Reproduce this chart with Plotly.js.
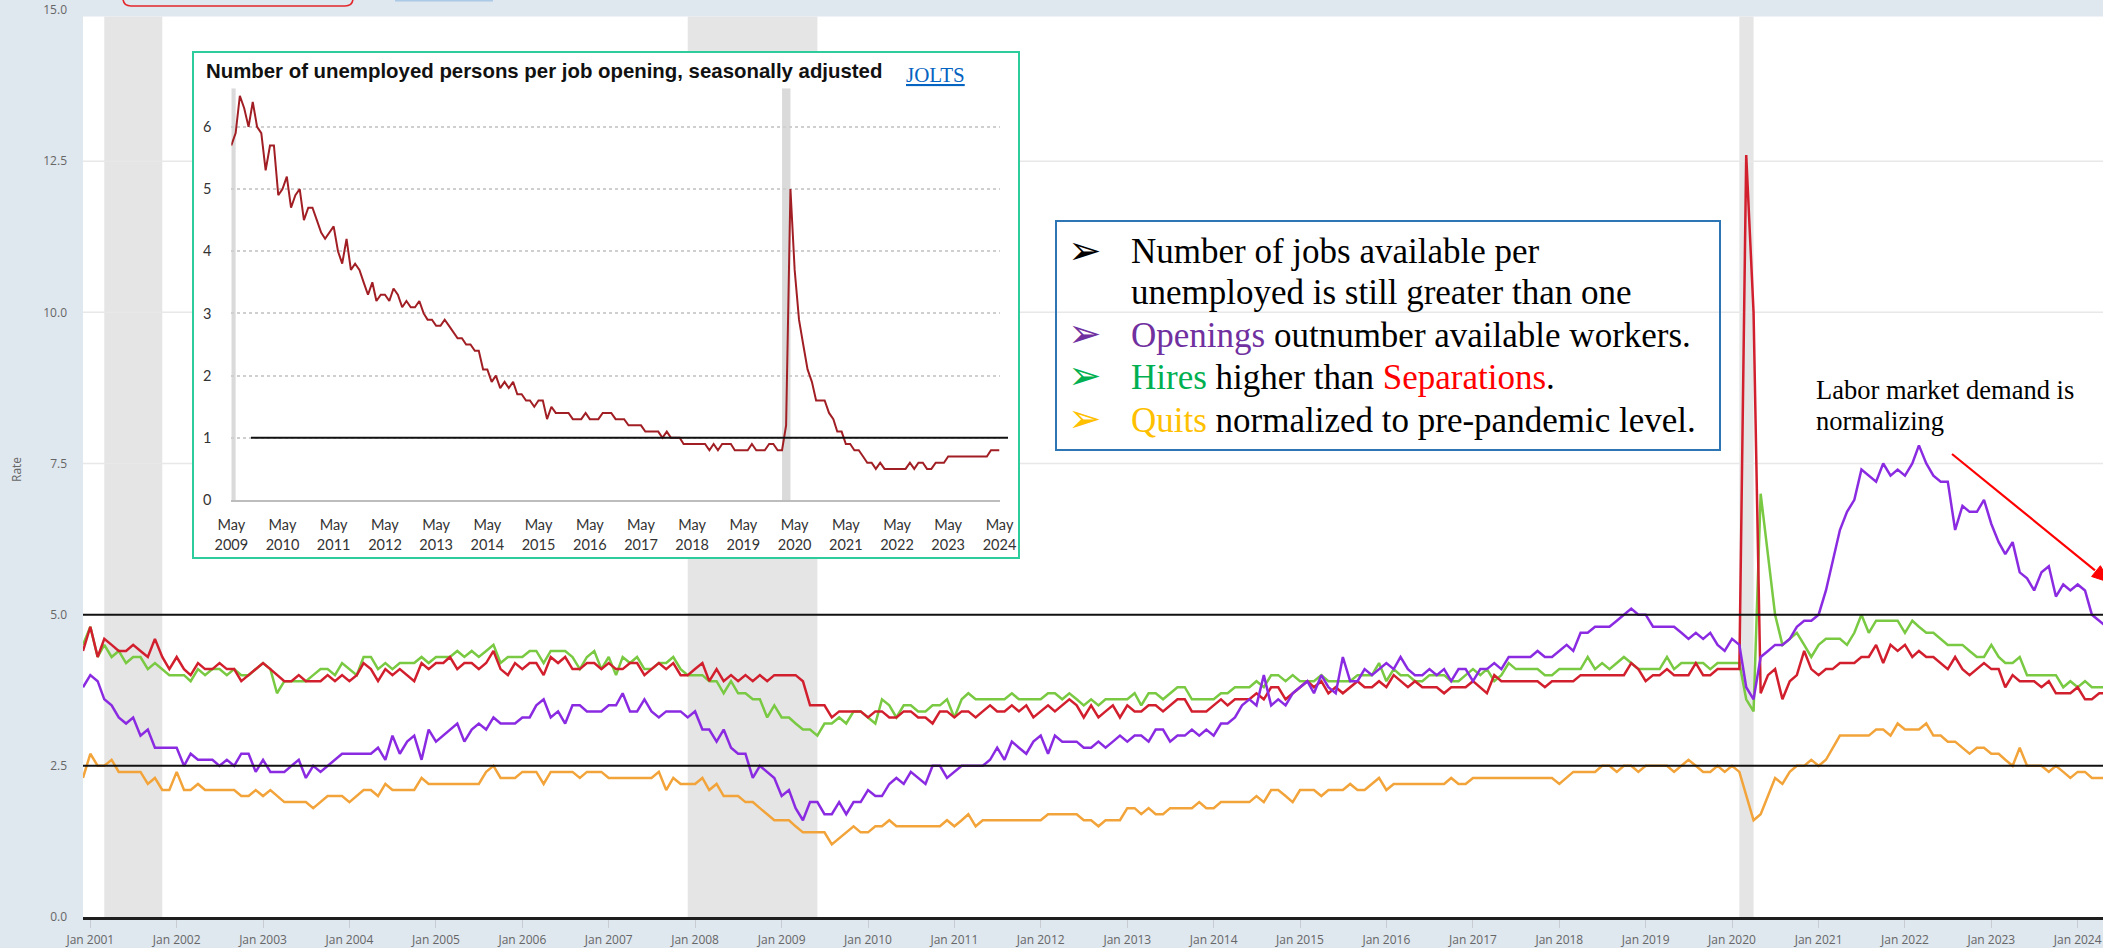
<!DOCTYPE html>
<html>
<head>
<meta charset="utf-8">
<script src="https://cdn.plot.ly/plotly-3.0.1.min.js"></script>
<style>
html,body{margin:0;padding:0;background:#dfe7ef;}
#chart{width:2103px;height:948px;}
</style>
</head>
<body>
<div id="chart"></div>
<script>
// ---------------- DATA ----------------
// JOLTS rates, monthly, starting Dec 2000
const startMonth = '2000-12';
const openings = [
3.8,4.0,3.9,3.6,3.5,3.3,3.2,3.3,3.0,3.1, 2.8,2.8,2.8,2.8,2.5,2.7,2.6,2.6,2.6,2.5,
2.6,2.5,2.7,2.7,2.4,2.6,2.4,2.4,2.4,2.5, 2.6,2.3,2.5,2.4,2.5,2.6,2.7,2.7,2.7,2.7,
2.7,2.8,2.6,3.0,2.7,2.9,3.0,2.6,3.1,2.9, 3.0,3.1,3.2,2.9,3.1,3.2,3.1,3.3,3.2,3.2,
3.2,3.3,
3.3,3.5,3.6,3.3,3.4,3.2,3.5,3.5,3.4,3.4, 3.4,3.5,3.5,3.7,3.4,3.4,3.6,3.4,3.3,3.4,
3.4,3.4,3.3,3.4,3.1,3.1,2.9,3.1,2.8,2.7, 2.7,2.3,2.5,2.4,2.3,2.0,2.1,1.8,1.6,1.9,
1.9,1.7,1.7,1.9,1.7,1.9,1.9,2.1,2.0,2.0, 2.2,2.3,2.2,2.4,2.3,2.2,2.5,2.5,2.3,2.4,
2.5,2.5,2.5,2.5,2.6,2.8,
2.6,2.9,2.8,2.7,2.9,3.0,2.7,3.0,2.9,2.9, 2.9,2.8,2.8,2.9,2.8,2.9,3.0,2.9,3.0,3.0,
2.9,3.1,3.1,2.9,3.0,3.0,3.1,3.0,3.1,3.0, 3.2,3.2,3.3,3.5,3.6,3.5,4.0,3.5,3.6,3.5,
3.7,3.8,3.9,3.7,4.0,3.8,3.7,4.3,3.9,3.9, 4.1,4.0,4.1,4.2,4.1,4.3,4.1,4.0,4.0,4.1,
4.0,4.1,3.9,4.1,4.1,3.9,4.1,
4.1,4.2,4.1,4.3,4.3,4.3,4.3,4.4,4.3,4.3, 4.4,4.5,4.4,4.7,4.7,4.8,4.8,4.8,4.9,5.0,
5.1,5.0,5.0,4.8,4.8,4.8,4.8,4.7,4.6,4.7, 4.6,4.7,4.5,4.4,4.6,4.5,3.8,3.6,4.3,4.4,
4.5,4.5,4.6,4.8,4.9,4.9,5.0,5.4,5.9,6.4, 6.7,6.9,7.4,7.3,7.2,7.5,7.3,7.4,7.3,7.5,
7.8,7.5,7.3,7.2,7.2,6.4,6.8,6.7,6.7,6.9, 6.5,6.2,6.0,6.2,5.7,5.6,5.4,5.7,5.8,5.3,
5.5,5.4,5.5,5.4,5.0,4.9,4.8
];
const hires = [
4.5,4.8,4.3,4.5,4.3,4.4,4.2,4.3,4.3,4.1, 4.2,4.1,4.0,4.0,4.0,3.9,4.1,4.0,4.1,4.1,
4.0,4.1,4.0,4.0,4.1,4.2,4.1,3.7,3.9,3.9, 3.9,3.9,4.0,4.1,4.1,4.0,4.2,4.1,4.0,4.3,
4.3,4.1,4.2,4.1,4.2,4.2,4.2,4.3,4.2,4.3, 4.3,4.3,4.4,4.3,4.4,4.3,4.4,4.5,4.2,4.3,
4.3,4.3,
4.4,4.4,4.2,4.4,4.4,4.4,4.3,4.1,4.3,4.4, 4.1,4.3,4.0,4.3,4.2,4.3,4.1,4.1,4.2,4.2,
4.3,4.1,4.0,4.0,4.0,3.9,3.9,3.7,3.9,3.7, 3.7,3.6,3.6,3.3,3.5,3.3,3.3,3.2,3.1,3.1,
3.0,3.2,3.2,3.3,3.2,3.4,3.4,3.3,3.2,3.6, 3.5,3.3,3.5,3.5,3.4,3.4,3.5,3.5,3.6,3.3,
3.6,3.7,3.6,3.6,3.6,3.6,
3.6,3.7,3.6,3.6,3.6,3.6,3.7,3.7,3.6,3.7, 3.6,3.5,3.6,3.5,3.6,3.6,3.6,3.6,3.7,3.5,
3.7,3.7,3.6,3.7,3.8,3.8,3.6,3.6,3.6,3.6, 3.7,3.7,3.8,3.8,3.8,3.9,3.8,4.0,4.0,3.9,
4.0,3.9,3.9,3.9,4.0,3.9,3.9,3.9,3.9,4.0, 4.0,4.0,4.2,3.9,4.1,4.0,4.0,3.9,3.9,4.0,
4.0,4.0,3.9,3.9,4.0,4.1,4.0,
4.1,3.9,4.0,4.2,4.1,4.1,4.1,4.1,4.0,4.0, 4.1,4.1,4.1,4.1,4.3,4.1,4.2,4.1,4.2,4.3,
4.2,4.1,4.1,4.1,4.1,4.3,4.1,4.2,4.2,4.2, 4.2,4.1,4.2,4.2,4.2,4.2,3.6,3.4,7.0,6.0,
5.0,4.5,4.6,4.7,4.5,4.3,4.5,4.6,4.6,4.6, 4.5,4.7,5.0,4.7,4.9,4.9,4.9,4.9,4.7,4.9,
4.8,4.7,4.7,4.6,4.5,4.5,4.5,4.4,4.3,4.3, 4.5,4.3,4.2,4.2,4.3,4.0,4.0,4.0,4.0,4.0,
3.8,3.9,3.8,3.9,3.8,3.8,3.8
];
const separations = [
4.4,4.8,4.3,4.6,4.5,4.4,4.4,4.5,4.4,4.3, 4.6,4.3,4.1,4.3,4.1,4.0,4.2,4.1,4.1,4.2,
4.1,4.1,3.9,4.0,4.1,4.2,4.1,4.0,3.9,3.9, 4.0,3.9,3.9,3.9,4.0,3.9,4.0,3.9,4.0,4.2,
4.1,3.9,4.1,4.0,4.1,4.0,3.9,4.2,4.1,4.2, 4.2,4.3,4.1,4.2,4.2,4.1,4.2,4.4,4.1,4.0,
4.2,4.1,
4.2,4.2,4.0,4.3,4.2,4.3,4.1,4.1,4.2,4.2, 4.1,4.2,4.1,4.1,4.2,4.2,4.0,4.1,4.2,4.1,
4.2,4.0,4.0,4.1,4.2,3.9,4.1,3.9,4.0,3.9, 4.0,3.9,4.0,3.9,4.0,4.0,4.0,4.0,3.9,3.5,
3.5,3.5,3.3,3.4,3.4,3.4,3.4,3.3,3.4,3.4, 3.3,3.3,3.4,3.4,3.3,3.3,3.2,3.4,3.4,3.3,
3.4,3.4,3.3,3.4,3.5,3.4,
3.4,3.5,3.4,3.5,3.3,3.4,3.5,3.4,3.5,3.6, 3.5,3.3,3.5,3.3,3.4,3.5,3.3,3.5,3.4,3.4,
3.5,3.5,3.4,3.5,3.6,3.6,3.4,3.4,3.4,3.5, 3.6,3.5,3.6,3.6,3.6,3.7,3.6,3.8,3.8,3.6,
3.7,3.8,3.9,3.8,3.9,3.7,3.8,3.7,3.8,3.9, 3.8,3.8,3.9,3.8,4.0,3.9,3.8,3.9,3.8,3.8,
3.8,3.7,3.8,3.8,3.8,3.9,3.8,
3.7,4.0,3.9,3.9,3.9,3.9,3.9,3.9,3.8,3.9, 3.9,3.9,3.9,4.0,4.0,4.0,4.0,4.0,4.0,4.0,
4.2,4.1,3.9,4.0,4.0,4.1,4.0,4.0,4.0,4.2, 4.0,4.0,4.1,4.1,4.1,4.1,12.6,10.0,3.7,4.0,
4.1,3.6,3.9,4.0,4.4,4.1,4.0,4.1,4.1,4.2, 4.2,4.2,4.3,4.3,4.5,4.2,4.5,4.4,4.5,4.3,
4.4,4.3,4.3,4.2,4.1,4.3,4.1,4.0,4.1,4.2, 4.1,4.1,3.8,4.0,3.9,3.9,3.9,3.8,3.9,3.7,
3.7,3.7,3.8,3.6,3.6,3.7,3.7
];
const quits = [
2.3,2.7,2.5,2.5,2.6,2.4,2.4,2.4,2.4,2.2, 2.3,2.1,2.1,2.4,2.1,2.1,2.2,2.1,2.1,2.1,
2.1,2.1,2.0,2.0,2.1,2.0,2.1,2.0,1.9,1.9, 1.9,1.9,1.8,1.9,2.0,2.0,2.0,1.9,2.0,2.1,
2.1,2.0,2.2,2.1,2.1,2.1,2.1,2.3,2.2,2.2, 2.2,2.2,2.2,2.2,2.2,2.2,2.4,2.5,2.3,2.3,
2.3,2.4,
2.4,2.4,2.2,2.4,2.4,2.4,2.4,2.3,2.4,2.4, 2.4,2.3,2.3,2.3,2.3,2.3,2.3,2.3,2.4,2.1,
2.3,2.2,2.2,2.2,2.3,2.1,2.2,2.0,2.0,2.0, 1.9,1.9,1.8,1.7,1.6,1.6,1.6,1.5,1.4,1.4,
1.4,1.4,1.2,1.3,1.4,1.5,1.4,1.4,1.5,1.5, 1.6,1.5,1.5,1.5,1.5,1.5,1.5,1.5,1.6,1.5,
1.6,1.7,1.5,1.6,1.6,1.6,
1.6,1.6,1.6,1.6,1.6,1.6,1.7,1.7,1.7,1.7, 1.7,1.6,1.6,1.5,1.6,1.6,1.6,1.8,1.8,1.7,
1.8,1.7,1.7,1.8,1.8,1.8,1.8,1.9,1.8,1.8, 1.9,1.9,1.9,1.9,1.9,2.0,1.9,2.1,2.1,2.0,
1.9,2.1,2.1,2.1,2.0,2.1,2.1,2.1,2.2,2.1, 2.1,2.2,2.3,2.1,2.2,2.2,2.2,2.2,2.2,2.2,
2.2,2.2,2.3,2.2,2.2,2.3,2.3,
2.3,2.3,2.3,2.3,2.3,2.3,2.3,2.3,2.3,2.3, 2.2,2.3,2.4,2.4,2.4,2.4,2.5,2.5,2.4,2.5,
2.5,2.4,2.5,2.5,2.5,2.5,2.4,2.5,2.6,2.5, 2.4,2.4,2.5,2.4,2.5,2.4,2.0,1.6,1.7,2.0,
2.3,2.2,2.4,2.5,2.5,2.6,2.5,2.6,2.8,3.0, 3.0,3.0,3.0,3.0,3.1,3.1,3.0,3.2,3.1,3.1,
3.1,3.2,3.0,3.0,2.9,2.9,2.8,2.7,2.8,2.8, 2.7,2.7,2.6,2.5,2.8,2.5,2.5,2.5,2.4,2.5,
2.4,2.3,2.4,2.4,2.3,2.3,2.3
];
// Inset: number of unemployed persons per job opening, monthly from May 2009
const ratioStart = '2009-05';
const unemployedPerOpening = [
5.7,5.9,6.5,6.3,6.0,6.4,6.0,5.9,5.3,5.7, 5.7,4.9,5.0,5.2,4.7,4.9,5.0,4.5,4.7,4.7,
4.5,4.3,4.2,4.3,4.4,4.0,3.8,4.2,3.7,3.8, 3.7,3.5,3.3,3.5,3.2,3.3,3.3,3.2,3.4,3.3,
3.1,3.2,3.1,3.1,3.2,3.0,2.9,2.9,2.8,2.8, 2.9,2.8,2.7,2.6,2.6,2.5,2.5,2.4,2.4,2.1,
2.1,1.9,2.0,1.8,1.9,1.8,1.9,1.7,1.7,1.6, 1.6,1.5,1.6,1.6,1.3,1.5,1.4,1.4,1.4,1.4,
1.3,1.3,1.3,1.4,1.3,1.3,1.3,1.4,1.4,1.4, 1.3,1.3,1.3,1.2,1.2,1.2,1.2,1.1,1.1,1.1,
1.1,1.0,1.1,1.0,1.0,1.0,0.9,0.9,0.9,0.9, 0.9,0.9,0.8,0.9,0.8,0.9,0.9,0.9,0.8,0.8,
0.8,0.8,0.9,0.8,0.8,0.8,0.9,0.9,0.8,0.8, 1.2,5.0,3.7,2.9,2.5,2.1,1.9,1.6,1.6,1.6,
1.4,1.3,1.1,1.1,0.9,0.9,0.8,0.8,0.7,0.6, 0.6,0.5,0.6,0.5,0.5,0.5,0.5,0.5,0.5,0.6,
0.5,0.6,0.6,0.5,0.5,0.6,0.6,0.6,0.7,0.7, 0.7,0.7,0.7,0.7,0.7,0.7,0.7,0.7,0.8,0.8,
0.8
];
const mainYTicks = [0, 2.5, 5, 7.5, 10, 12.5, 15];
const insetYTicks = [0, 1, 2, 3, 4, 5, 6];
const insetYears = [2009,2010,2011,2012,2013,2014,2015,2016,2017,2018,2019,2020,2021,2022,2023,2024];
const recessions = [['2001-03-01','2001-11-01'],['2007-12-01','2009-06-01'],['2020-02-01','2020-04-01']];
const insetRecessions = [['2009-05-01','2009-06-01'],['2020-02-01','2020-04-01']];

// ---------------- HELPERS ----------------
function monthSeries(start, n){
  const parts = start.split('-').map(Number);
  const out = [];
  for(let i=0;i<n;i++){
    const mm = parts[1]-1+i;
    const yy = parts[0]+Math.floor(mm/12);
    const mo = mm%12+1;
    out.push(yy+'-'+String(mo).padStart(2,'0')+'-01');
  }
  return out;
}
const W=2103, H=948, ML=83, MR=0, MT=10, MB=31;
const PW=W-ML-MR, PH=H-MT-MB;
const px = x => (x-ML)/PW;
const py = y => (H-MB-y)/PH;

const dates = monthSeries(startMonth, openings.length);
const insetDates = monthSeries(ratioStart, unemployedPerOpening.length);
const insetTickVals = insetYears.map(y => y+'-05-01');

// ---------------- TRACES ----------------
function line(y, color, name){
  return {type:'scatter', mode:'lines', x:dates, y:y, name:name,
          line:{color:color, width:2.5}, hoverinfo:'skip', showlegend:false,
          xaxis:'x', yaxis:'y'};
}
const traces = [
  line(quits, '#f2a43a', 'Quits'),
  line(hires, '#7ac943', 'Hires'),
  line(separations, '#d21f2e', 'Separations'),
  line(openings, '#8a2be2', 'Openings'),
  {type:'scatter', mode:'lines', x:insetDates, y:unemployedPerOpening, xaxis:'x2', yaxis:'y2',
   line:{color:'#a11f24', width:2}, hoverinfo:'skip', showlegend:false},
  {type:'scatter', mode:'lines', x:[], y:[], xaxis:'x3', yaxis:'y2', showlegend:false, hoverinfo:'skip'}
];

// ---------------- SHAPES ----------------
const shapes = [];
shapes.push({type:'rect', xref:'paper', yref:'paper', x0:0, x1:1, y0:0, y1:py(16.5),
  fillcolor:'#ffffff', line:{width:0}, layer:'below'});
recessions.forEach(r => shapes.push({type:'rect', xref:'x', yref:'paper', x0:r[0], x1:r[1],
  y0:0, y1:py(16.5), fillcolor:'#e5e5e5', line:{width:0}, layer:'below'}));
[7.5, 10, 12.5].forEach(v => shapes.push({type:'line', xref:'paper', yref:'y', x0:0, x1:1, y0:v, y1:v,
  line:{color:'#e8e8e8', width:1.5}, layer:'below'}));
shapes.push({type:'rect', xref:'paper', yref:'paper', x0:px(193), x1:px(1019), y0:py(558), y1:py(52),
  fillcolor:'#ffffff', line:{color:'#2ccc9c', width:2}, layer:'below'});
insetRecessions.forEach(r => shapes.push({type:'rect', xref:'x2', yref:'y2', x0:r[0], x1:r[1],
  y0:0, y1:6.62, fillcolor:'#dadada', line:{width:0}, layer:'below'}));
[5, 2.5].forEach(v => shapes.push({type:'line', xref:'paper', yref:'y', x0:0, x1:1, y0:v, y1:v,
  line:{color:'#111111', width:2}, layer:'above'}));
shapes.push({type:'line', xref:'paper', yref:'y2', x0:px(251), x1:px(1008), y0:1, y1:1,
  line:{color:'#111111', width:2}, layer:'above'});
shapes.push({type:'rect', xref:'paper', yref:'paper', x0:px(1056), x1:px(1720), y0:py(450), y1:py(221),
  fillcolor:'rgba(0,0,0,0)', line:{color:'#2e75b6', width:2}, layer:'above'});
shapes.push({type:'line', xref:'paper', yref:'paper', x0:px(1952), y0:py(454), x1:px(2095), y1:py(570.3),
  line:{color:'#ff0000', width:2.2}, layer:'above'});
shapes.push({type:'path', xref:'paper', yref:'paper',
  path:'M '+px(2110)+','+py(582.5)+' L '+px(2091.6)+','+py(576.5)+' L '+px(2100.4)+','+py(565.7)+' Z',
  fillcolor:'#ff0000', line:{color:'#ff0000', width:1}, layer:'above'});
shapes.push({type:'path', xref:'paper', yref:'paper',
  path:'M '+px(123)+','+py(-12)+' L '+px(123)+','+py(-2)+' Q '+px(123)+','+py(6)+' '+px(131)+','+py(6)+
       ' L '+px(345)+','+py(6)+' Q '+px(353)+','+py(6)+' '+px(353)+','+py(-2)+' L '+px(353)+','+py(-12),
  line:{color:'#e3262b', width:1.6}, layer:'above'});
shapes.push({type:'rect', xref:'paper', yref:'paper', x0:px(395), x1:px(493), y0:py(1.5), y1:py(-6),
  fillcolor:'#acc9e6', line:{width:0}, layer:'above'});

// ---------------- ANNOTATIONS ----------------
const serif = 'Liberation Serif, Times New Roman, serif';
const annotations = [];
annotations.push({xref:'paper', yref:'paper', x:px(17), y:py(470), text:'Rate', textangle:-90,
  showarrow:false, xanchor:'center', yanchor:'middle', font:{family:'Open Sans', size:12, color:'#666'}});
annotations.push({xref:'paper', yref:'paper', x:px(204), y:py(71), xanchor:'left', yanchor:'middle', showarrow:false,
  text:'<b>Number of unemployed persons per job opening, seasonally adjusted</b>',
  font:{family:'Liberation Sans, Arial, sans-serif', size:20.4, color:'#111'}});
annotations.push({xref:'paper', yref:'paper', x:px(904), y:py(75), xanchor:'left', yanchor:'middle', showarrow:false,
  text:'<u>JOLTS</u>', font:{family:serif, size:21, color:'#0563c1'}});

const bulletLines = [
  {yc:252, bullet:'#000000', text:'Number of jobs available per'},
  {yc:292, bullet:null, text:'unemployed is still greater than one'},
  {yc:335, bullet:'#7030a0', text:'<span style="color:#7030a0">Openings</span> outnumber available workers.'},
  {yc:377, bullet:'#00b050', text:'<span style="color:#00b050">Hires</span> higher than <span style="color:#ff0000">Separations</span>.'},
  {yc:420, bullet:'#ffc000', text:'<span style="color:#ffc000">Quits</span> normalized to pre-pandemic level.'}
];
bulletLines.forEach(b => {
  if(b.bullet){
    annotations.push({xref:'paper', yref:'paper', x:px(1085), y:py(b.yc-2), xanchor:'center', yanchor:'middle',
      showarrow:false, text:'\u27A2', font:{family:'DejaVu Sans', size:40, color:b.bullet}});
  }
  annotations.push({xref:'paper', yref:'paper', x:px(1129), y:py(b.yc), xanchor:'left', yanchor:'middle',
    showarrow:false, text:b.text, font:{family:serif, size:35, color:'#000'}});
});
annotations.push({xref:'paper', yref:'paper', x:px(1814), y:py(390), xanchor:'left', yanchor:'middle',
  showarrow:false, text:'Labor market demand is', font:{family:serif, size:26.5, color:'#000'}});
annotations.push({xref:'paper', yref:'paper', x:px(1814), y:py(421), xanchor:'left', yanchor:'middle',
  showarrow:false, text:'normalizing', font:{family:serif, size:26.5, color:'#000'}});

// ---------------- LAYOUT ----------------
const tickFont = {family:'Open Sans', size:12, color:'#666'};
const insetFont = {family:'Lato, Open Sans, sans-serif', size:14.5, color:'#333'};
const layout = {
  width:W, height:H, autosize:false,
  margin:{l:ML, r:MR, t:MT, b:MB, pad:0},
  paper_bgcolor:'#dfe7ef', plot_bgcolor:'rgba(0,0,0,0)',
  showlegend:false,
  xaxis:{type:'date', range:['2000-12-01','2024-04-17'], tick0:'2001-01-01', dtick:'M12', tickformat:'%b %Y',
    ticks:'outside', ticklen:8, tickcolor:'#c8ccd2', tickwidth:1, showgrid:false, zeroline:false,
    showline:true, linecolor:'#1e1e1e', linewidth:3, tickfont:tickFont, ticklabelstandoff:2, fixedrange:true},
  yaxis:{range:[0,15], tickvals:mainYTicks, ticktext:mainYTicks.map(v=>v.toFixed(1)),
    showgrid:false, zeroline:false, showline:false, ticks:'', tickfont:tickFont, ticklabelstandoff:15, fixedrange:true},
  xaxis2:{type:'date', anchor:'y2', domain:[px(231.3), px(999.5)], range:['2009-05-01','2024-05-01'],
    tickvals:insetTickVals, ticktext:insetYears.map(()=> 'May'), ticks:'', showgrid:false, zeroline:false,
    showline:true, linecolor:'#bdbdbd', linewidth:2, tickfont:insetFont, ticklabelstandoff:11, fixedrange:true},
  xaxis3:{type:'date', anchor:'y2', overlaying:'x2', range:['2009-05-01','2024-05-01'],
    tickvals:insetTickVals, ticktext:insetYears.map(String), ticks:'', showgrid:false, zeroline:false,
    showline:false, tickfont:insetFont, ticklabelstandoff:34, fixedrange:true},
  yaxis2:{anchor:'x2', domain:[py(500), py(88.3)], range:[0,6.62], tickvals:insetYTicks,
    showgrid:true, gridcolor:'#cfcfcf', griddash:'dot', gridwidth:2, zeroline:false, showline:false,
    ticks:'', tickfont:insetFont, ticklabelstandoff:19, fixedrange:true},
  shapes:shapes,
  annotations:annotations
};

Plotly.newPlot('chart', traces, layout, {displayModeBar:false, staticPlot:true});
</script>
</body>
</html>
